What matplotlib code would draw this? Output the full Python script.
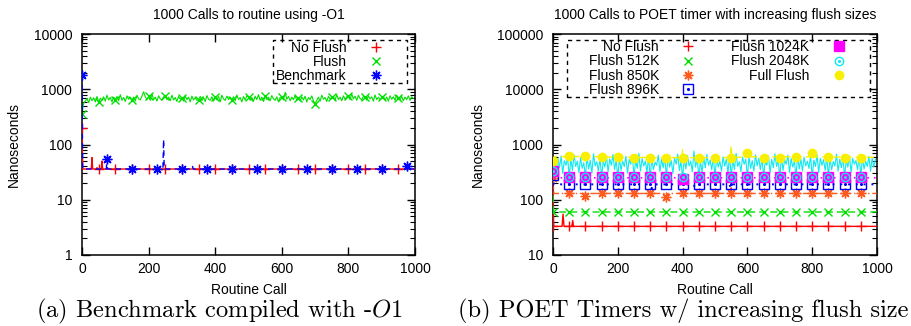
import matplotlib
matplotlib.use('Agg')
import matplotlib.pyplot as plt
from matplotlib.lines import Line2D
from matplotlib.legend_handler import HandlerTuple
from matplotlib.patches import Rectangle
import numpy as np

plt.rcParams['font.family'] = ['Liberation Sans', 'DejaVu Sans']
plt.rcParams['mathtext.fontset'] = 'cm'
plt.rcParams['font.size'] = 10

# ---------------- data: panel (a) ----------------
noisy_calls_a = list(range(0, 1000, 5))
flush_a = [
    350, 560, 610, 680, 570, 720, 620, 700, 590, 740,
    580, 690, 630, 730, 610, 780, 640, 710, 590, 720,
    650, 740, 620, 800, 630, 710, 600, 760, 660, 720,
    630, 720, 610, 780, 670, 640, 750, 900, 730, 650,
    740, 630, 820, 650, 720, 610, 760, 670, 640, 730,
    750, 650, 720, 620, 780, 640, 710, 600, 740, 660,
    700, 610, 760, 650, 720, 590, 750, 640, 710, 630,
    650, 740, 620, 710, 600, 770, 660, 630, 730, 610,
    710, 640, 740, 590, 780, 670, 630, 750, 650, 720,
    640, 730, 620, 790, 650, 710, 590, 740, 640, 760,
    720, 630, 710, 610, 750, 650, 800, 630, 720, 600,
    740, 650, 720, 620, 770, 670, 630, 730, 590, 710,
    730, 640, 880, 660, 740, 620, 720, 650, 770, 630,
    700, 610, 730, 640, 750, 590, 710, 650, 760, 620,
    550, 630, 720, 610, 780, 660, 710, 600, 740, 670,
    710, 740, 630, 800, 650, 720, 620, 760, 660, 730,
    740, 650, 820, 670, 750, 630, 780, 680, 640, 740,
    720, 630, 760, 670, 730, 610, 790, 650, 720, 640,
    710, 750, 640, 720, 610, 760, 660, 730, 630, 780,
    700, 640, 740, 620, 720, 650, 760, 630, 730, 680,
]
no_flush_a_calls = [0, 2, 28, 30, 32, 44, 45, 46, 58, 60, 62, 100, 101, 102, 999]
no_flush_a_vals = [200, 36, 36, 58, 36, 36, 38, 36, 36, 50, 36, 36, 37, 36, 36]
no_flush_a_mk_calls = list(range(0, 1000, 50))
no_flush_a_mk_vals = [200] + [36] * 19
bench_a_calls = [0, 2, 73, 75, 77, 243, 245, 247, 330, 332, 334, 973, 975, 977, 999]
bench_a_vals = [1800, 36, 36, 55, 36, 36, 123, 36, 36, 40, 36, 36, 40, 36, 36]
bench_a_mk_calls = list(range(0, 1000, 75))
bench_a_mk_vals = [1800, 55, 36, 36, 36, 36, 36, 36, 36, 36, 36, 36, 36, 40]

# ---------------- data: panel (b) ----------------
mk_calls_b = list(range(0, 1000, 50))
nf_b_calls = [0, 2, 28, 31, 34, 58, 61, 63, 999]
nf_b_vals = [250, 33, 33, 55, 33, 33, 42, 33, 33]
nf_b_mk = [33] * 20
f512_calls = [0, 2, 999]
f512_vals = [120, 60, 60]
f512_mk = [60] * 20
f850_calls = [0, 3, 95, 100, 105, 190, 195, 197, 200, 345, 350, 355, 548, 550, 552, 640, 643, 646, 999]
f850_vals = [250, 130, 130, 115, 130, 130, 150, 125, 130, 130, 110, 130, 130, 165, 130, 130, 122, 130, 130]
f850_mk = [250, 130, 115, 130, 130, 130, 130, 110, 130, 130, 130, 130, 130, 130, 130, 130, 130, 130, 130, 130]
f896_calls = [0, 3, 300, 305, 310, 420, 425, 440, 445, 545, 548, 552, 700, 705, 710, 999]
f896_vals = [280, 190, 190, 160, 190, 190, 200, 170, 190, 190, 165, 190, 190, 205, 190, 190]
f896_mk = [280] + [190] * 19
f1024_calls = [0, 3, 999]
f1024_vals = [330, 250, 250]
f1024_mk = [330, 255, 255, 255, 255, 255, 255, 255, 242, 255, 255, 255, 255, 255, 255, 255, 255, 255, 255, 255]
noisy_calls_b = list(range(0, 1000, 5))
f2048 = [
    330, 480, 320, 560, 380, 620, 300, 510, 420, 590,
    260, 540, 340, 650, 400, 500, 310, 580, 370, 470,
    255, 600, 360, 520, 300, 680, 410, 490, 330, 560,
    258, 500, 390, 630, 320, 550, 420, 660, 350, 520,
    255, 570, 340, 500, 400, 610, 300, 540, 440, 640,
    260, 510, 370, 690, 330, 560, 410, 500, 310, 600,
    255, 550, 350, 480, 420, 640, 320, 540, 380, 580,
    258, 620, 390, 510, 300, 570, 440, 670, 340, 500,
    255, 540, 360, 630, 410, 500, 320, 760, 390, 560,
    260, 500, 310, 590, 380, 660, 420, 520, 350, 610,
    255, 580, 390, 500, 330, 600, 410, 540, 300, 640,
    258, 530, 350, 690, 400, 490, 320, 590, 440, 540,
    255, 610, 370, 510, 330, 650, 410, 560, 350, 580,
    260, 500, 420, 620, 310, 540, 380, 680, 400, 520,
    255, 590, 340, 530, 440, 640, 310, 560, 390, 500,
    258, 640, 360, 540, 330, 590, 410, 500, 370, 620,
    255, 520, 400, 650, 310, 560, 420, 530, 340, 600,
    260, 580, 350, 490, 410, 670, 330, 540, 380, 590,
    255, 530, 390, 620, 310, 560, 440, 510, 350, 640,
    258, 600, 360, 500, 400, 610, 330, 570, 390, 540,
]
full_calls = [0, 5, 100, 200, 300, 398, 400, 402, 548, 550, 552, 598, 600, 602, 798, 800, 802, 999]
full_vals = [500, 600, 610, 590, 580, 580, 820, 580, 580, 940, 580, 600, 710, 600, 600, 690, 600, 585]
full_mk = [500, 610, 610, 600, 590, 570, 575, 580, 575, 575, 580, 580, 710, 575, 575, 590, 690, 590, 580, 575]

labels_a = ['No Flush', 'Flush', 'Benchmark']
labels_b = ['No Flush', 'Flush 512K', 'Flush 850K', 'Flush 896K', 'Flush 1024K', 'Flush 2048K', 'Full Flush']

RED = '#ff0000'
GREEN = '#00e000'
BLUE = '#0000ff'
ORANGE = '#ff5a1e'
MAGENTA = '#ff00ff'
CYAN = '#10e8f0'
YELLOW = '#f8f000'
AST = (8, 2, 0)

fig = plt.figure(figsize=(9.11, 3.26), dpi=100)
axA = fig.add_axes([82 / 911, 1 - 255 / 326, 333 / 911, 221 / 326])
axB = fig.add_axes([553 / 911, 1 - 255 / 326, 324 / 911, 221 / 326])

# ---- panel a ----
axA.plot(no_flush_a_calls, no_flush_a_vals, color=RED, lw=1.0, zorder=3)
axA.plot(no_flush_a_mk_calls, no_flush_a_mk_vals, ls='none', marker='+', ms=7, mew=1.0, color=RED, zorder=3)
axA.plot(noisy_calls_a, flush_a, color=GREEN, lw=0.8, zorder=2)
axA.plot(noisy_calls_a[::10], flush_a[::10], ls='none', marker='x', ms=6, mew=1.0, color=GREEN, zorder=2)
axA.plot(bench_a_calls, bench_a_vals, color=BLUE, lw=1.0, ls=(0, (4, 3)), zorder=4)
axA.plot(bench_a_mk_calls, bench_a_mk_vals, ls='none', marker=AST, ms=7, mew=1.0, color=BLUE, zorder=4)

# ---- panel b ----
axB.plot(nf_b_calls, nf_b_vals, color=RED, lw=1.0, zorder=3)
axB.plot(mk_calls_b, nf_b_mk, ls='none', marker='+', ms=7, mew=1.0, color=RED, zorder=3)
axB.plot(f512_calls, f512_vals, color=GREEN, lw=1.0, ls=(0, (5, 3)), zorder=3)
axB.plot(mk_calls_b, f512_mk, ls='none', marker='x', ms=6, mew=1.0, color=GREEN, zorder=3)
axB.plot(f850_calls, f850_vals, color=ORANGE, lw=1.0, ls=(0, (5, 2, 1, 2)), zorder=3)
axB.plot(mk_calls_b, f850_mk, ls='none', marker=AST, ms=7, mew=1.0, color=ORANGE, zorder=3)
axB.plot(f896_calls, f896_vals, color=BLUE, lw=1.4, ls=(0, (1, 3)), zorder=3)
axB.plot(mk_calls_b, f896_mk, ls='none', marker='s', ms=6.5, mew=1.0, mfc='none', color=BLUE, zorder=3)
axB.plot(mk_calls_b, f896_mk, ls='none', marker='.', ms=2.5, color=BLUE, zorder=3)
axB.plot(noisy_calls_b, f2048, color=CYAN, lw=0.8, zorder=2)
axB.plot(f1024_calls, f1024_vals, color=MAGENTA, lw=1.2, ls=(0, (1, 3)), zorder=3)
axB.plot(mk_calls_b, f1024_mk, ls='none', marker='s', ms=6.5, color=MAGENTA, zorder=3)
axB.plot(noisy_calls_b[::10], f2048[::10], ls='none', marker='o', ms=6, mew=1.0, mfc='none', color=CYAN, zorder=4)
axB.plot(noisy_calls_b[::10], f2048[::10], ls='none', marker='.', ms=2.5, color=CYAN, zorder=4)
axB.plot(full_calls, full_vals, color=YELLOW, lw=1.0, ls=(0, (5, 3)), zorder=4)
axB.plot(mk_calls_b, full_mk, ls='none', marker='o', ms=6, color=YELLOW, zorder=4)

for ax, ylo, yhi, title in [(axA, 1, 10000, '1000 Calls to routine using -O1'),
                            (axB, 10, 100000, '1000 Calls to POET timer with increasing flush sizes')]:
    ax.set_yscale('log')
    ax.set_ylim(ylo, yhi)
    ax.set_xlim(0, 1000)
    ax.set_xticks([0, 200, 400, 600, 800, 1000])
    ax.tick_params(which='major', direction='in', length=6, width=1.0, top=True, right=True, labelsize=10)
    ax.tick_params(axis='y', which='major', pad=7)
    ax.tick_params(axis='x', which='major', pad=5)
    ax.tick_params(which='minor', direction='in', length=3.5, width=0.8, top=True, right=True)
    ax.yaxis.set_major_formatter(matplotlib.ticker.FuncFormatter(lambda v, p: '%d' % round(v)))
    ax.yaxis.set_minor_formatter(matplotlib.ticker.NullFormatter())
    for s in ax.spines.values():
        s.set_linewidth(1.1)
    ax.set_xlabel('Routine Call', fontsize=10, labelpad=5)
    ax.set_ylabel('Nanoseconds', fontsize=10, labelpad=9)
    ax.set_title(title, fontsize=10, pad=11)

def key(marker, color, ms, mew=1.0, mfc=None):
    kw = dict(ls='none', marker=marker, color=color, ms=ms, mew=mew)
    if mfc is not None:
        kw['mfc'] = mfc
    return Line2D([], [], **kw)

handles_a = [key('+', RED, 7), key('x', GREEN, 6), key(AST, BLUE, 7)]
legA = axA.legend(handles_a, labels_a, loc='upper right', bbox_to_anchor=(0.97, 0.968),
                  frameon=False, markerfirst=False, handlelength=4.2, handletextpad=0.0,
                  borderpad=0.0, labelspacing=0.0, fontsize=10, borderaxespad=0)
axA.add_patch(Rectangle((0.574, 0.778), 0.976 - 0.574, 0.973 - 0.778, transform=axA.transAxes,
                        fill=False, ec='black', lw=1.0, ls=(0, (3, 3)), zorder=5))

handles_b = [key('+', RED, 7), key('x', GREEN, 6), key(AST, ORANGE, 7),
             (key('s', BLUE, 6.5, mfc='none'), key('.', BLUE, 2.5)),
             key('s', MAGENTA, 6.5),
             (key('o', CYAN, 6, mfc='none'), key('.', CYAN, 2.5)),
             key('o', YELLOW, 6)]
legB = axB.legend(handles_b, labels_b, loc='upper right', bbox_to_anchor=(0.972, 0.972), ncol=2,
                  frameon=False, markerfirst=False, handlelength=4.2, handletextpad=0.0,
                  borderpad=0.0, labelspacing=0.02, columnspacing=1.0, fontsize=10, borderaxespad=0,
                  handler_map={tuple: HandlerTuple(ndivide=1, pad=0)})
axB.add_patch(Rectangle((0.043, 0.715), 0.978 - 0.043, 0.973 - 0.715, transform=axB.transAxes,
                        fill=False, ec='black', lw=1.0, ls=(0, (3, 3)), zorder=5))

fig.text(219 / 911, 1 - 311 / 326, '(a) Benchmark compiled with -$\\mathit{O1}$',
         family='cmr10', fontsize=17.6, ha='center', va='center')
fig.text(683 / 911, 1 - 311 / 326, '(b) POET Timers w/ increasing flush size',
         family='cmr10', fontsize=17.6, ha='center', va='center')

fig.savefig('out.png', dpi=100)
